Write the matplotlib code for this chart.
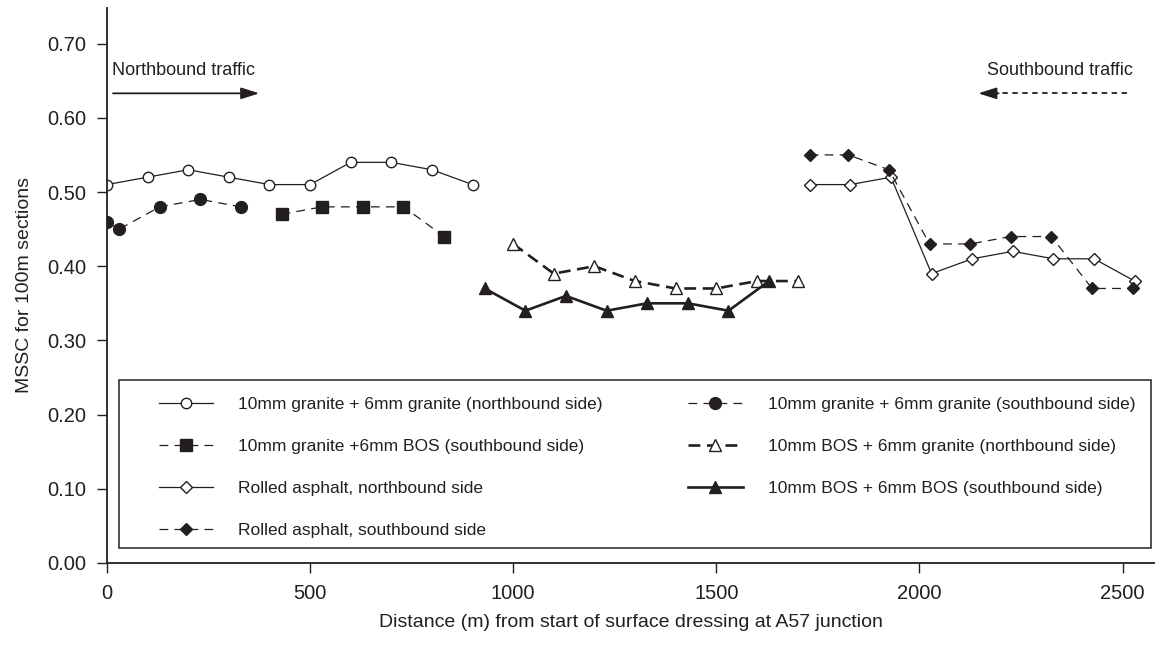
import matplotlib
matplotlib.use('Agg')
import matplotlib.pyplot as plt
from matplotlib.patches import Rectangle

## MSSC along the surface dressing trial

plt.rcParams['font.family'] = ['Liberation Sans', 'DejaVu Sans']
INK = '#231f20'

# 10mm granite + 6mm granite (northbound side)
gn_x = [0, 100, 200, 300, 400, 500, 600, 700, 800, 900]
gn_y = [0.51, 0.52, 0.53, 0.52, 0.51, 0.51, 0.54, 0.54, 0.53, 0.51]
# 10mm granite + 6mm granite (southbound side)
gs_x = [0, 30, 130, 230, 330]
gs_y = [0.46, 0.45, 0.48, 0.49, 0.48]
# 10mm granite +6mm BOS (southbound side)
gb_x = [430, 530, 630, 730, 830]
gb_y = [0.47, 0.48, 0.48, 0.48, 0.44]
# 10mm BOS + 6mm granite (northbound side)
bg_x = [1000, 1100, 1200, 1300, 1400, 1500, 1600, 1700]
bg_y = [0.43, 0.39, 0.40, 0.38, 0.37, 0.37, 0.38, 0.38]
# 10mm BOS + 6mm BOS (southbound side)
bb_x = [930, 1030, 1130, 1230, 1330, 1430, 1530, 1630]
bb_y = [0.37, 0.34, 0.36, 0.34, 0.35, 0.35, 0.34, 0.38]
# Rolled asphalt, northbound side
rn_x = [1730, 1830, 1930, 2030, 2130, 2230, 2330, 2430, 2530]
rn_y = [0.51, 0.51, 0.52, 0.39, 0.41, 0.42, 0.41, 0.41, 0.38]
# Rolled asphalt, southbound side
rs_x = [1730, 1825, 1925, 2025, 2125, 2225, 2325, 2425, 2525]
rs_y = [0.55, 0.55, 0.53, 0.43, 0.43, 0.44, 0.44, 0.37, 0.37]

fig = plt.figure(figsize=(11.55, 6.46), dpi=100)
ax = fig.add_axes([0.0926, 0.1285, 0.9074, 0.8591])

l_gn, = ax.plot(gn_x, gn_y, '-', color=INK, lw=0.9, marker='o', ms=7.5,
                mfc='white', mec=INK, mew=1.0,
                label='10mm granite + 6mm granite (northbound side)')
l_gs, = ax.plot(gs_x, gs_y, color=INK, lw=0.9, ls=(0, (7, 5)), marker='o', ms=8.5,
                mfc=INK, mec=INK,
                label='10mm granite + 6mm granite (southbound side)')
l_gb, = ax.plot(gb_x, gb_y, color=INK, lw=0.9, ls=(0, (7, 5)), marker='s', ms=9,
                mfc=INK, mec=INK,
                label='10mm granite +6mm BOS (southbound side)')
l_bg, = ax.plot(bg_x, bg_y, color=INK, lw=1.9, ls=(0, (4.5, 2.5)), marker='^', ms=9,
                mfc='white', mec=INK, mew=1.0,
                label='10mm BOS + 6mm granite (northbound side)')
l_bb, = ax.plot(bb_x, bb_y, '-', color=INK, lw=1.9, marker='^', ms=9,
                mfc=INK, mec=INK,
                label='10mm BOS + 6mm BOS (southbound side)')
l_rn, = ax.plot(rn_x, rn_y, '-', color=INK, lw=0.9, marker='D', ms=6.5,
                mfc='white', mec=INK, mew=1.0,
                label='Rolled asphalt, northbound side')
l_rs, = ax.plot(rs_x, rs_y, color=INK, lw=0.9, ls=(0, (7, 5)), marker='D', ms=6.5,
                mfc=INK, mec=INK,
                label='Rolled asphalt, southbound side')

ax.set_xlim(0, 2580)
ax.set_ylim(0, 0.748)
ax.set_xticks([0, 500, 1000, 1500, 2000, 2500])
ax.set_yticks([0.0, 0.1, 0.2, 0.3, 0.4, 0.5, 0.6, 0.7])
ax.set_yticklabels(['%.2f' % v for v in ax.get_yticks()])
ax.tick_params(direction='out', length=7, width=1, colors=INK, labelsize=14.5, pad=8)
for s in ['top', 'right']:
    ax.spines[s].set_visible(False)
for s in ['left', 'bottom']:
    ax.spines[s].set_linewidth(1.3)
    ax.spines[s].set_color(INK)

ax.set_xlabel('Distance (m) from start of surface dressing at A57 junction',
              fontsize=14, color=INK, labelpad=8)
ax.set_ylabel('MSSC for 100m sections', fontsize=14, color=INK, labelpad=10)

# traffic direction notes
head = dict(arrowstyle='-|>,head_length=1.1,head_width=0.35', color=INK,
            lw=1.3, shrinkA=0, shrinkB=0)
ax.text(12, 0.664, 'Northbound traffic', fontsize=13, color=INK, va='center', ha='left')
ax.annotate('', xy=(375, 0.633), xytext=(15, 0.633), arrowprops=head)
ax.text(2525, 0.664, 'Southbound traffic', fontsize=13, color=INK, va='center', ha='right')
ax.plot([2510, 2185], [0.633, 0.633], color=INK, lw=1.3, ls=(0, (3, 2.5)))
ax.annotate('', xy=(2145, 0.633), xytext=(2195, 0.633), arrowprops=head)

# legend frame drawn separately so it spans the axes
ax.add_patch(Rectangle((0.0115, 0.027), 0.985, 0.303, transform=ax.transAxes,
                       fill=False, edgecolor=INK, lw=1.1, zorder=1))
ax.legend(handles=[l_gn, l_gb, l_rn, l_rs, l_gs, l_bg, l_bb], ncol=2,
          loc='upper left', bbox_to_anchor=(0.036, 0.325), frameon=False,
          fontsize=12.5, handlelength=3.15, handletextpad=1.45, labelspacing=1.55,
          columnspacing=4.9, borderpad=0.3, labelcolor=INK)

plt.savefig('out.png', dpi=100)
